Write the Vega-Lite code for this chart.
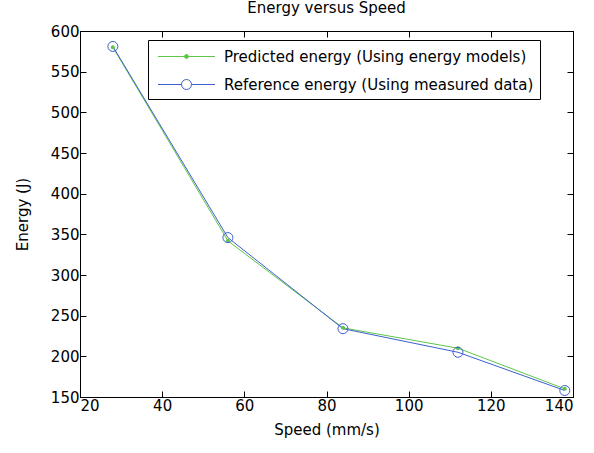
{
  "$schema": "https://vega.github.io/schema/vega-lite/v6.json",
  "width": 493,
  "height": 366,
  "autosize": {"type": "none"},
  "padding": {"left": 80, "top": 31, "right": 21, "bottom": 56},
  "background": "white",
  "config": {
    "font": "DejaVu Sans",
    "view": {"stroke": "black", "strokeWidth": 1},
    "axis": {"grid": false, "domainColor": "black", "tickColor": "black", "labelColor": "black", "titleColor": "black", "labelFontSize": 15, "titleFontSize": 15, "titleFontWeight": "normal", "tickSize": -6, "domain": true}
  },
  "title": {"text": "Energy versus Speed", "fontSize": 15, "fontWeight": "normal", "color": "black", "offset": 8},
  "data": {"values": [
    {"series": "Predicted energy (Using energy models)", "speed": 28, "energy": 580},
    {"series": "Predicted energy (Using energy models)", "speed": 56, "energy": 342},
    {"series": "Predicted energy (Using energy models)", "speed": 84, "energy": 235},
    {"series": "Predicted energy (Using energy models)", "speed": 112, "energy": 210},
    {"series": "Predicted energy (Using energy models)", "speed": 138, "energy": 160},
    {"series": "Reference energy (Using measured data)", "speed": 28, "energy": 581},
    {"series": "Reference energy (Using measured data)", "speed": 56, "energy": 346},
    {"series": "Reference energy (Using measured data)", "speed": 84, "energy": 234},
    {"series": "Reference energy (Using measured data)", "speed": 112, "energy": 205},
    {"series": "Reference energy (Using measured data)", "speed": 138, "energy": 158}
  ]},
  "layer": [
    {"mark": {"type": "rule", "opacity": 0},
     "encoding": {
      "x": {"field": "speed", "type": "quantitative", "scale": {"domain": [20, 140], "nice": false, "zero": false},
        "axis": {"orient": "top", "labels": false, "title": null, "values": [20, 40, 60, 80, 100, 120, 140]}},
      "y": {"field": "energy", "type": "quantitative", "scale": {"domain": [150, 600], "nice": false, "zero": false},
        "axis": {"orient": "right", "labels": false, "title": null, "values": [150, 200, 250, 300, 350, 400, 450, 500, 550, 600]}}
    }},
    {"encoding": {
      "x": {"field": "speed", "type": "quantitative", "scale": {"domain": [20, 140], "nice": false, "zero": false},
        "axis": {"orient": "bottom", "title": "Speed (mm/s)", "values": [20, 40, 60, 80, 100, 120, 140], "labelPadding": 7, "titlePadding": 9}},
      "y": {"field": "energy", "type": "quantitative", "scale": {"domain": [150, 600], "nice": false, "zero": false},
        "axis": {"orient": "left", "title": "Energy (J)", "values": [150, 200, 250, 300, 350, 400, 450, 500, 550, 600], "labelPadding": 7, "titlePadding": 20}},
      "color": {"field": "series", "type": "nominal",
        "scale": {"domain": ["Predicted energy (Using energy models)", "Reference energy (Using measured data)"], "range": ["#5ec64a", "#3d5fcc"]},
        "legend": {
          "title": null, "orient": "none", "legendX": 68, "legendY": 9,
          "strokeColor": "black", "fillColor": "white", "padding": 6,
          "labelFontSize": 15, "labelColor": "black", "labelOffset": 27,
          "symbolSize": 400, "symbolOffset": 22, "rowPadding": 9, "labelLimit": 400,
          "symbolStrokeWidth": 1,
          "encode": {"symbols": {"update": {
            "shape": {"signal": "datum.value == 'Predicted energy (Using energy models)' ? 'M-2.85,0L2.85,0M0.2,0A0.2,0.2 0 1,1 -0.2,0A0.2,0.2 0 1,1 0.2,0Z' : 'M-2.85,0L-0.5,0M0.5,0L2.85,0M0.5,0A0.5,0.5 0 1,1 -0.5,0A0.5,0.5 0 1,1 0.5,0Z'"},
            "fill": {"signal": "datum.value == 'Predicted energy (Using energy models)' ? '#5ec64a' : 'white'"},
            "fillOpacity": {"signal": "datum.value == 'Predicted energy (Using energy models)' ? 1 : 0"},
            "strokeWidth": {"value": 1}
          }}}
        }}
     },
     "layer": [
      {"mark": {"type": "line", "strokeWidth": 1}, "transform": [{"filter": "datum.series == 'Predicted energy (Using energy models)'"}]},
      {"mark": {"type": "line", "strokeWidth": 1}, "transform": [{"filter": "datum.series == 'Reference energy (Using measured data)'"}]},
      {"mark": {"type": "point", "shape": "circle", "filled": true, "size": 16, "opacity": 1}, "transform": [{"filter": "datum.series == 'Predicted energy (Using energy models)'"}]},
      {"mark": {"type": "point", "shape": "circle", "filled": false, "size": 100, "strokeWidth": 1, "opacity": 1}, "transform": [{"filter": "datum.series == 'Reference energy (Using measured data)'"}]}
     ]}
  ],
  "resolve": {"axis": {"x": "independent", "y": "independent"}}
}
